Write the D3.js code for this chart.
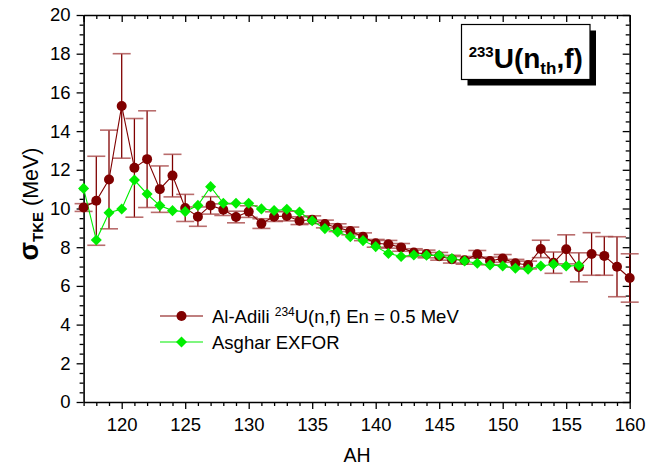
<!DOCTYPE html>
<html>
<head>
<meta charset="utf-8">
<script src="https://cdn.jsdelivr.net/npm/d3@7"></script>
<style>
  html, body { margin: 0; padding: 0; background: #fff; }
  svg { display: block; font-family: Arial, "Liberation Sans", sans-serif; }
</style>
</head>
<body>
<svg id="chart" width="646" height="465"></svg>
<script>
// Heavy fragment mass number
const massAH = [117,118,119,120,121,122,123,124,125,126,127,128,129,130,131,132,133,134,135,136,137,138,139,140,141,142,143,144,145,146,147,148,149,150,151,152,153,154,155,156,157,158,159,160];
// Al-Adili 234U(n,f), En = 0.5 MeV: sigma_TKE (MeV) and its uncertainty
const adiliSigma = [10.05,10.4,11.5,15.3,12.1,12.55,11.0,11.7,10.03,9.58,10.16,9.94,9.56,9.84,9.22,9.58,9.61,9.37,9.42,9.2,9.01,8.84,8.54,8.2,8.15,7.99,7.72,7.65,7.53,7.38,7.32,7.63,7.29,7.42,7.17,7.08,7.91,7.2,7.89,6.96,7.65,7.55,6.99,6.41];
const adiliErr   = [0.2,2.3,2.55,2.7,2.55,2.5,1.2,1.1,0.7,0.5,0.45,0.3,0.3,0.3,0.25,0.25,0.25,0.2,0.2,0.2,0.2,0.2,0.2,0.2,0.2,0.2,0.2,0.2,0.2,0.2,0.2,0.2,0.2,0.2,0.2,0.2,0.45,0.55,0.75,0.75,1.1,1.0,1.55,1.25];
// Asghar (EXFOR), A = 117 .. 156
const asgharAH = [117,118,119,120,121,122,123,124,125,126,127,128,129,130,131,132,133,134,135,136,137,138,139,140,141,142,143,144,145,146,147,148,149,150,151,152,153,154,155,156];
const asgharSigma = [11.04,8.37,9.78,9.97,11.47,10.75,10.15,9.89,9.84,10.16,11.13,10.27,10.27,10.27,9.98,9.9,9.96,9.82,9.37,8.96,8.79,8.54,8.34,8.03,7.68,7.52,7.6,7.58,7.58,7.42,7.29,7.17,7.08,7.03,6.91,6.86,7.03,7.12,7.03,7.05];

const xTicks = [120,125,130,135,140,145,150,155,160];
const yTicks = [0,2,4,6,8,10,12,14,16,18,20];

const svg = d3.select("#chart");
const m = {left: 83.6, right: 629.7, top: 15, bottom: 402};

const x = d3.scaleLinear().domain([117, 160]).range([m.left, m.right]);
const y = d3.scaleLinear().domain([0, 20]).range([m.bottom, m.top]);

const red = "#800000", green = "#00ee00";

// ---- axes ----
const minorX = d3.range(117, 161, 1).filter(v => v % 5 !== 0);
const minorY = d3.range(0, 20.01, 0.5).filter(v => v % 2 !== 0);

function styleAxis(g) {
  g.selectAll(".domain").attr("stroke", "#000").attr("stroke-width", 1.6);
  g.selectAll(".tick line").attr("stroke", "#000").attr("stroke-width", 1.3);
}

// bottom: outward ticks with labels
svg.append("g").attr("transform", `translate(0,${m.bottom})`)
  .call(d3.axisBottom(x).tickValues(xTicks).tickSize(7).tickPadding(9).tickFormat(d3.format("d")).tickSizeOuter(0))
  .call(styleAxis)
  .call(g => g.selectAll("text").attr("font-size", 18.5).attr("fill", "#000"));
svg.append("g").attr("transform", `translate(0,${m.bottom})`)
  .call(d3.axisBottom(x).tickValues(minorX).tickSize(4).tickFormat("").tickSizeOuter(0))
  .call(styleAxis).call(g => g.select(".domain").remove());

// top: inward ticks, no labels
svg.append("g").attr("transform", `translate(0,${m.top})`)
  .call(d3.axisBottom(x).tickValues(xTicks.concat([117])).tickSize(7).tickFormat("").tickSizeOuter(0))
  .call(styleAxis);
svg.append("g").attr("transform", `translate(0,${m.top})`)
  .call(d3.axisBottom(x).tickValues(minorX).tickSize(4).tickFormat("").tickSizeOuter(0))
  .call(styleAxis).call(g => g.select(".domain").remove());

// left: outward ticks with labels
svg.append("g").attr("transform", `translate(${m.left},0)`)
  .call(d3.axisLeft(y).tickValues(yTicks).tickSize(7).tickPadding(6).tickFormat(d3.format("d")).tickSizeOuter(0))
  .call(styleAxis)
  .call(g => g.selectAll("text").attr("font-size", 18.5).attr("fill", "#000"));
svg.append("g").attr("transform", `translate(${m.left},0)`)
  .call(d3.axisLeft(y).tickValues(minorY).tickSize(4).tickFormat("").tickSizeOuter(0))
  .call(styleAxis).call(g => g.select(".domain").remove());

// right: inward ticks, no labels
svg.append("g").attr("transform", `translate(${m.right},0)`)
  .call(d3.axisLeft(y).tickValues(yTicks).tickSize(7).tickFormat("").tickSizeOuter(0))
  .call(styleAxis);
svg.append("g").attr("transform", `translate(${m.right},0)`)
  .call(d3.axisLeft(y).tickValues(minorY).tickSize(4).tickFormat("").tickSizeOuter(0))
  .call(styleAxis).call(g => g.select(".domain").remove());

// ---- axis titles ----
svg.append("text").attr("x", 357).attr("y", 462).attr("text-anchor", "middle")
  .attr("font-size", 19.5).text("AH");

const yt = svg.append("text").attr("transform", "translate(38,204) rotate(-90)")
  .attr("text-anchor", "middle").attr("font-size", 21.5);
yt.append("tspan").attr("font-weight", "bold").attr("font-size", 27).text("σ");
yt.append("tspan").attr("font-weight", "bold").attr("font-size", 15).attr("dy", 5).text("TKE");
yt.append("tspan").attr("dy", -5).text(" (MeV)");

// ---- data ----
const adili = massAH.map((a, i) => ({a, v: adiliSigma[i], e: adiliErr[i]}));
const asghar = asgharAH.map((a, i) => ({a, v: asgharSigma[i]}));

const plot = svg.append("g");

// error bars
const eb = plot.append("g");
eb.selectAll("line.stem").data(adili).join("line")
  .attr("x1", d => x(d.a)).attr("x2", d => x(d.a))
  .attr("y1", d => y(d.v + d.e)).attr("y2", d => y(d.v - d.e))
  .attr("stroke", red).attr("stroke-width", 1.3);
eb.selectAll("line.cap").data(adili.flatMap(d => [d.v + d.e, d.v - d.e].map(v => ({a: d.a, v}))))
  .join("line")
  .attr("x1", d => x(d.a) - 9).attr("x2", d => x(d.a) + 9)
  .attr("y1", d => y(d.v)).attr("y2", d => y(d.v))
  .attr("stroke", "#a84848").attr("stroke-opacity", 0.8).attr("stroke-width", 1.6);

const line = d3.line().x(d => x(d.a)).y(d => y(d.v));

plot.append("path").datum(adili).attr("d", line)
  .attr("fill", "none").attr("stroke", red).attr("stroke-width", 1.1);
plot.append("path").datum(asghar).attr("d", line)
  .attr("fill", "none").attr("stroke", green).attr("stroke-width", 1.1);

plot.selectAll("circle.adili").data(adili).join("circle")
  .attr("cx", d => x(d.a)).attr("cy", d => y(d.v)).attr("r", 5).attr("fill", red);

const diamond = d3.symbol().type(d3.symbolDiamond2).size(78);
plot.selectAll("path.asghar").data(asghar).join("path")
  .attr("transform", d => `translate(${x(d.a)},${y(d.v)})`)
  .attr("d", diamond).attr("fill", green);

// ---- legend ----
const lg = svg.append("g");
const legendItems = [
  {color: red, y: 316, marker: "circle"},
  {color: green, y: 342, marker: "diamond"}
];
legendItems.forEach(it => {
  lg.append("line").attr("x1", 160).attr("x2", 203).attr("y1", it.y).attr("y2", it.y)
    .attr("stroke", it.color).attr("stroke-width", 1.1);
  if (it.marker === "circle") {
    lg.append("circle").attr("cx", 181.5).attr("cy", it.y).attr("r", 5).attr("fill", it.color);
  } else {
    lg.append("path").attr("transform", `translate(181.5,${it.y})`).attr("d", diamond).attr("fill", it.color);
  }
});
const l1 = lg.append("text").attr("x", 212).attr("y", 322.5).attr("font-size", 18.5);
l1.append("tspan").text("Al-Adili ");
l1.append("tspan").attr("font-size", 12).attr("dy", -7).text("234");
l1.append("tspan").attr("dy", 7).text("U(n,f) En = 0.5 MeV");
lg.append("text").attr("x", 212).attr("y", 349).attr("font-size", 18.5).text("Asghar EXFOR");

// ---- reaction label box ----
const bx = 461.5, by = 24.5, bw = 128.5, bh = 55;
svg.append("rect").attr("x", bx + 6).attr("y", by + 6).attr("width", bw).attr("height", bh).attr("fill", "#000");
svg.append("rect").attr("x", bx).attr("y", by).attr("width", bw).attr("height", bh)
  .attr("fill", "#fff").attr("stroke", "#000").attr("stroke-width", 1.2);
const tt = svg.append("text").attr("x", bx + bw / 2).attr("y", 68).attr("text-anchor", "middle")
  .attr("font-weight", "bold").attr("font-size", 28);
tt.append("tspan").attr("font-size", 15).attr("dy", -11).text("233");
tt.append("tspan").attr("dy", 11).text("U(n");
tt.append("tspan").attr("font-size", 17).attr("dy", 6).text("th");
tt.append("tspan").attr("dy", -6).text(",f)");
</script>
</body>
</html>
